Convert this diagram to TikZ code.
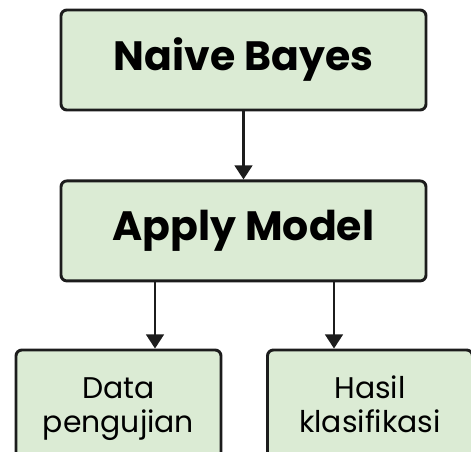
\documentclass[tikz,border=0pt]{standalone}
\usepackage{fontspec}
\setmainfont{Poppins}
\usepackage{xcolor}
\usepackage{tikz}
\usetikzlibrary{
  arrows.meta,
  positioning
}
\definecolor{boxgreen}{RGB}{219,235,212}
\definecolor{boxline}{RGB}{28,28,28}
\tikzset{
  >={Triangle[width=15pt,length=12pt]},
  line cap=round,
  line join=round,
  box/.style={draw=boxline, fill=boxgreen, line width=2.5pt, rounded corners=5pt, align=center},
  bigbox/.style={box, minimum width=10.95cm, minimum height=3cm, font=\fontsize{35}{40}\selectfont\bfseries},
  smallbox/.style={box, minimum width=6.15cm, minimum height=3.54cm, font=\fontsize{25.5}{28.5}\selectfont},
  arrow/.style={->, line width=2.2pt, draw=boxline, fill=boxline}
}

\begin{document}
\begin{tikzpicture}[scale=1]
    \useasboundingbox (0,0) rectangle (14.13,-13.56);
    \clip (0,0) rectangle (14.13,-13.56);
    \node[bigbox] (bayes) at (7.305,-1.8) {Naive Bayes};
    \node[bigbox, below=2.04cm of bayes] (apply) {Apply Model};
    \node[smallbox] (data) at (3.555,-12.27) {\strut Data\\pengujian\strut};
    \node[smallbox] (hasil) at (11.1,-12.27) {\strut Hasil\\klasifikasi\strut};
    \draw[arrow] (bayes) -- (apply);
    \draw[arrow] (4.65,0 |- apply.south) -- (4.65,0 |- data.north);
    \draw[arrow] (10.02,0 |- apply.south) -- (10.02,0 |- hasil.north);
  \end{tikzpicture}
\end{document}
